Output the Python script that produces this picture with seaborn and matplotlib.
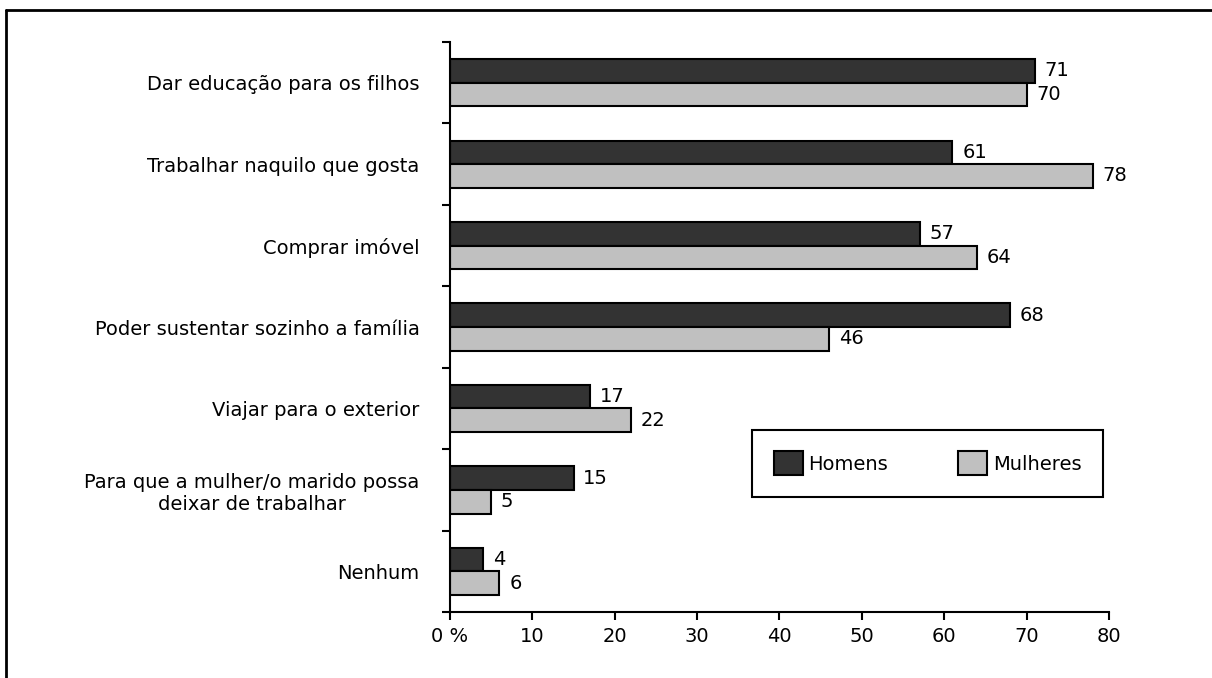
#import libraries
import seaborn as sns
import pandas
import matplotlib.pyplot as plt
from matplotlib.lines import Line2D

#data
categorias = ["Dar educação para os filhos",
              "Trabalhar naquilo que gosta",
              "Comprar imóvel",
              "Poder sustentar sozinho a família",
              "Viajar para o exterior",
              "Para que a mulher/o marido possa\ndeixar de trabalhar",
              "Nenhum"]
homens = [71, 61, 57, 68, 17, 15, 4]
mulheres = [70, 78, 64, 46, 22, 5, 6]
xticks = [0, 10, 20, 30, 40, 50, 60, 70, 80]
xticklabels = ["0 %", "10", "20", "30", "40", "50", "60", "70", "80"]

df = pandas.DataFrame({
    "categoria": categorias * 2,
    "valor": homens + mulheres,
    "sexo": ["Homens"] * len(categorias) + ["Mulheres"] * len(categorias),
})

#implementations
sns.set_theme(style='white')
plt.rcParams['font.family'] = ['DejaVu Sans']
plt.rcParams['text.color'] = 'black'
plt.rcParams['xtick.color'] = 'black'
plt.rcParams['ytick.color'] = 'black'
fs = 14
fig = plt.figure(figsize=(12.12, 6.78), dpi=100)
ax = fig.add_axes([0.3713, 0.0973, 0.5437, 0.8407])

sns.barplot(data=df, y="categoria", x="valor", hue="sexo", orient='h',
            palette=["#333333", "#c0c0c0"], edgecolor='black', linewidth=1.5,
            width=0.58, gap=0, ax=ax)

for cont in ax.containers:
    ax.bar_label(cont, fmt='%d', padding=7, fontsize=fs, color='black')

#axes settings
ax.set_xlim(0, 80)
ax.set_ylim(6.5, -0.5)
ax.set_xticks(xticks)
ax.set_xticklabels(xticklabels, fontsize=fs)
ax.set_yticks(range(len(categorias)))
ax.set_yticklabels(categorias, fontsize=fs)
for lab in ax.get_yticklabels():
    lab.set_multialignment('center')
ax.set_yticks([i - 0.5 for i in range(len(categorias) + 1)], minor=True)
ax.tick_params(axis='y', which='major', length=0, pad=22)
ax.tick_params(axis='y', which='minor', left=True, length=6, width=1.5, color='black')
ax.tick_params(axis='x', bottom=True, length=6, width=1.5, color='black', pad=5)
ax.set_xlabel('')
ax.set_ylabel('')
for s in ['top', 'right']:
    ax.spines[s].set_visible(False)
for s in ['left', 'bottom']:
    ax.spines[s].set_color('black')
    ax.spines[s].set_linewidth(1.5)

#legend
leg = ax.legend(loc='center', bbox_to_anchor=(0.725, 0.261), ncol=2,
                fontsize=fs, frameon=True, fancybox=False, edgecolor='black',
                framealpha=1, handlelength=1.5, handleheight=1.5, handletextpad=0.3,
                columnspacing=3.6, borderpad=1.1, borderaxespad=0)
leg.get_frame().set_linewidth(1.5)
leg.get_frame().set_edgecolor('black')
for t in leg.get_texts():
    t.set_color('black')

#border of the figure
fig.add_artist(Line2D([6 / 1212, 6 / 1212], [0, 1 - 10 / 678], color='black', lw=2))
fig.add_artist(Line2D([6 / 1212, 1], [1 - 10 / 678, 1 - 10 / 678], color='black', lw=2))

#save
fig.savefig('out.png', dpi=100)
